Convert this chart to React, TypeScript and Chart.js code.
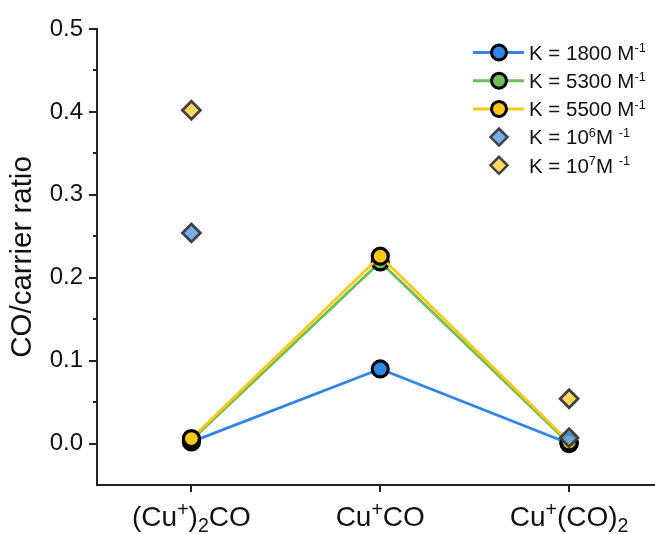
import React, { useEffect, useRef } from "react";
import { Chart, registerables } from "chart.js";

Chart.register(...registerables);

// ---- data ----
const categories = ["(Cu^{+})_{2}CO", "Cu^{+}CO", "Cu^{+}(CO)_{2}"];
const categoryPositions = [1, 2, 3];
const k1800 = [0.002, 0.09, 0.0];
const k5300 = [0.004, 0.219, 0.0];
const k5500 = [0.006, 0.226, 0.002];
const k1e6 = [0.254, null, 0.007];
const k1e7 = [0.402, null, 0.054];
const yTickValues = [0, 0.1, 0.2, 0.3, 0.4, 0.5];
const yMinorTickValues = [0.05, 0.15, 0.25, 0.35, 0.45];
const seriesLabels = [
  "K = 1800 M^{-1}",
  "K = 5300 M^{-1}",
  "K = 5500 M^{-1}",
  "K = 10^{6}M ^{-1}",
  "K = 10^{7}M ^{-1}",
];

const FONT = "'Liberation Sans', Arial, sans-serif";

type Seg = { t: string; k: "n" | "sup" | "sub" };
function parseRich(s: string): Seg[] {
  const out: Seg[] = [];
  const re = /(\^\{([^}]*)\}|_\{([^}]*)\})/g;
  let last = 0;
  let m: RegExpExecArray | null;
  while ((m = re.exec(s))) {
    if (m.index > last) out.push({ t: s.slice(last, m.index), k: "n" });
    if (m[2] !== undefined) out.push({ t: m[2], k: "sup" });
    else out.push({ t: m[3], k: "sub" });
    last = re.lastIndex;
  }
  if (last < s.length) out.push({ t: s.slice(last), k: "n" });
  return out;
}

function richWidth(ctx: CanvasRenderingContext2D, segs: Seg[], size: number, scale: number) {
  let w = 0;
  for (const s of segs) {
    const fs = s.k === "n" ? size : size * scale;
    ctx.font = `${fs}px ${FONT}`;
    w += ctx.measureText(s.t).width;
  }
  return w;
}

function drawRich(
  ctx: CanvasRenderingContext2D,
  segs: Seg[],
  x: number,
  baseline: number,
  size: number,
  scale: number
) {
  let cx = x;
  ctx.textBaseline = "alphabetic";
  ctx.textAlign = "left";
  for (const s of segs) {
    const fs = s.k === "n" ? size : size * scale;
    ctx.font = `${fs}px ${FONT}`;
    let y = baseline;
    if (s.k === "sup") y = baseline - size * 0.36;
    if (s.k === "sub") y = baseline + size * 0.2;
    ctx.fillText(s.t, cx, y);
    cx += ctx.measureText(s.t).width;
  }
}

const customPlugin = {
  id: "custom",
  afterDraw(chart: any) {
    const ctx: CanvasRenderingContext2D = chart.ctx;
    const xs = chart.scales.x;
    const ys = chart.scales.y;
    ctx.save();
    // minor y ticks
    ctx.strokeStyle = "#222";
    ctx.lineWidth = 2;
    for (const v of yMinorTickValues) {
      const py = Math.round(ys.getPixelForValue(v));
      ctx.beginPath();
      ctx.moveTo(xs.left - 4, py);
      ctx.lineTo(xs.left, py);
      ctx.stroke();
    }
    // x category labels
    ctx.fillStyle = "#111";
    categories.forEach((c, i) => {
      const segs = parseRich(c);
      const px = xs.getPixelForValue(categoryPositions[i]);
      const w = richWidth(ctx, segs, 28, 0.7);
      drawRich(ctx, segs, px - w / 2, 526, 28, 0.7);
    });
    // legend
    const ds = chart.data.datasets;
    const rowY0 = 52.5;
    const rowH = 28.2;
    ds.forEach((d: any, i: number) => {
      const y = rowY0 + i * rowH;
      const cx = 499;
      if (d.showLine !== false) {
        ctx.strokeStyle = d.borderColor;
        ctx.lineWidth = 3;
        ctx.beginPath();
        ctx.moveTo(473, y);
        ctx.lineTo(524, y);
        ctx.stroke();
        ctx.beginPath();
        ctx.arc(cx, y, 7.5, 0, Math.PI * 2);
        ctx.fillStyle = d.pointBackgroundColor;
        ctx.fill();
        ctx.lineWidth = 3;
        ctx.strokeStyle = d.pointBorderColor;
        ctx.stroke();
      } else {
        const r = 8.5;
        ctx.beginPath();
        ctx.moveTo(cx, y - r);
        ctx.lineTo(cx + r, y);
        ctx.lineTo(cx, y + r);
        ctx.lineTo(cx - r, y);
        ctx.closePath();
        ctx.fillStyle = d.pointBackgroundColor;
        ctx.fill();
        ctx.lineWidth = 2.5;
        ctx.strokeStyle = d.pointBorderColor;
        ctx.stroke();
      }
      ctx.fillStyle = "#111";
      drawRich(ctx, parseRich(seriesLabels[i]), 529, y + 7.2, 20.5, 0.62);
    });
    ctx.restore();
  },
};

function toPoints(vals: (number | null)[]) {
  return vals.map((v, i) => ({ x: categoryPositions[i], y: v }));
}

export default function App() {
  const ref = useRef<HTMLCanvasElement | null>(null);
  useEffect(() => {
    document.body.style.margin = "0";
    const canvas = ref.current!;
    const lineDs = (vals: number[], line: string, fill: string, order: number) => ({
      data: toPoints(vals),
      borderColor: line,
      borderWidth: 2.8,
      pointBackgroundColor: fill,
      pointBorderColor: "#000",
      pointBorderWidth: 3.2,
      pointRadius: 8,
      pointStyle: "circle",
      showLine: true,
      order,
    });
    const diaDs = (vals: (number | null)[], fill: string, order: number) => ({
      data: toPoints(vals),
      borderColor: "#404040",
      pointBackgroundColor: fill,
      pointBorderColor: "#404040",
      pointBorderWidth: 2.7,
      pointRadius: 9,
      pointStyle: "rectRot",
      showLine: false,
      order,
    });
    const chart = new Chart(canvas, {
      type: "scatter",
      data: {
        datasets: [
          lineDs(k1800, "#2f86e6", "#2f86e6", 4),
          lineDs(k5300, "#6cc05a", "#6cc05a", 3),
          lineDs(k5500, "#fcc811", "#fcc811", 2),
          diaDs(k1e6, "rgba(92,160,232,0.85)", 1),
          diaDs(k1e7, "rgba(255,212,74,0.9)", 0),
        ] as any,
      },
      options: {
        responsive: false,
        animation: false,
        devicePixelRatio: 1,
        layout: { autoPadding: false, padding: { top: 29, right: 0, left: 0, bottom: 0 } },
        plugins: { legend: { display: false }, tooltip: { enabled: false } },
        scales: {
          x: {
            type: "linear",
            min: 0.5,
            max: 3.455,
            afterBuildTicks: (s: any) => {
              s.ticks = categoryPositions.map((v) => ({ value: v }));
            },
            afterFit: (s: any) => {
              s.height = 49;
            },
            ticks: { display: false },
            grid: {
              drawOnChartArea: false,
              drawTicks: true,
              tickLength: 7,
              color: "#222",
              lineWidth: 2,
            },
            border: { display: true, color: "#222", width: 2 },
          },
          y: {
            type: "linear",
            min: -0.05,
            max: 0.5,
            afterBuildTicks: (s: any) => {
              s.ticks = yTickValues.map((v) => ({ value: v }));
            },
            afterFit: (s: any) => {
              s.width = 97;
            },
            ticks: {
              color: "#111",
              font: { family: FONT, size: 24 },
              padding: 6,
              callback: (v: any) => Number(v).toFixed(1),
            },
            grid: {
              drawOnChartArea: false,
              drawTicks: true,
              tickLength: 8,
              color: "#222",
              lineWidth: 2,
            },
            border: { display: true, color: "#222", width: 2 },
            title: {
              display: true,
              text: "CO/carrier ratio",
              color: "#111",
              font: { family: FONT, size: 29.5 },
              padding: { top: 5, bottom: 0 },
            },
          },
        },
      } as any,
      plugins: [customPlugin],
    });
    return () => chart.destroy();
  }, []);
  return (
    <div style={{ width: 655, height: 534 }}>
      <canvas ref={ref} width={655} height={534} style={{ display: "block" }} />
    </div>
  );
}
